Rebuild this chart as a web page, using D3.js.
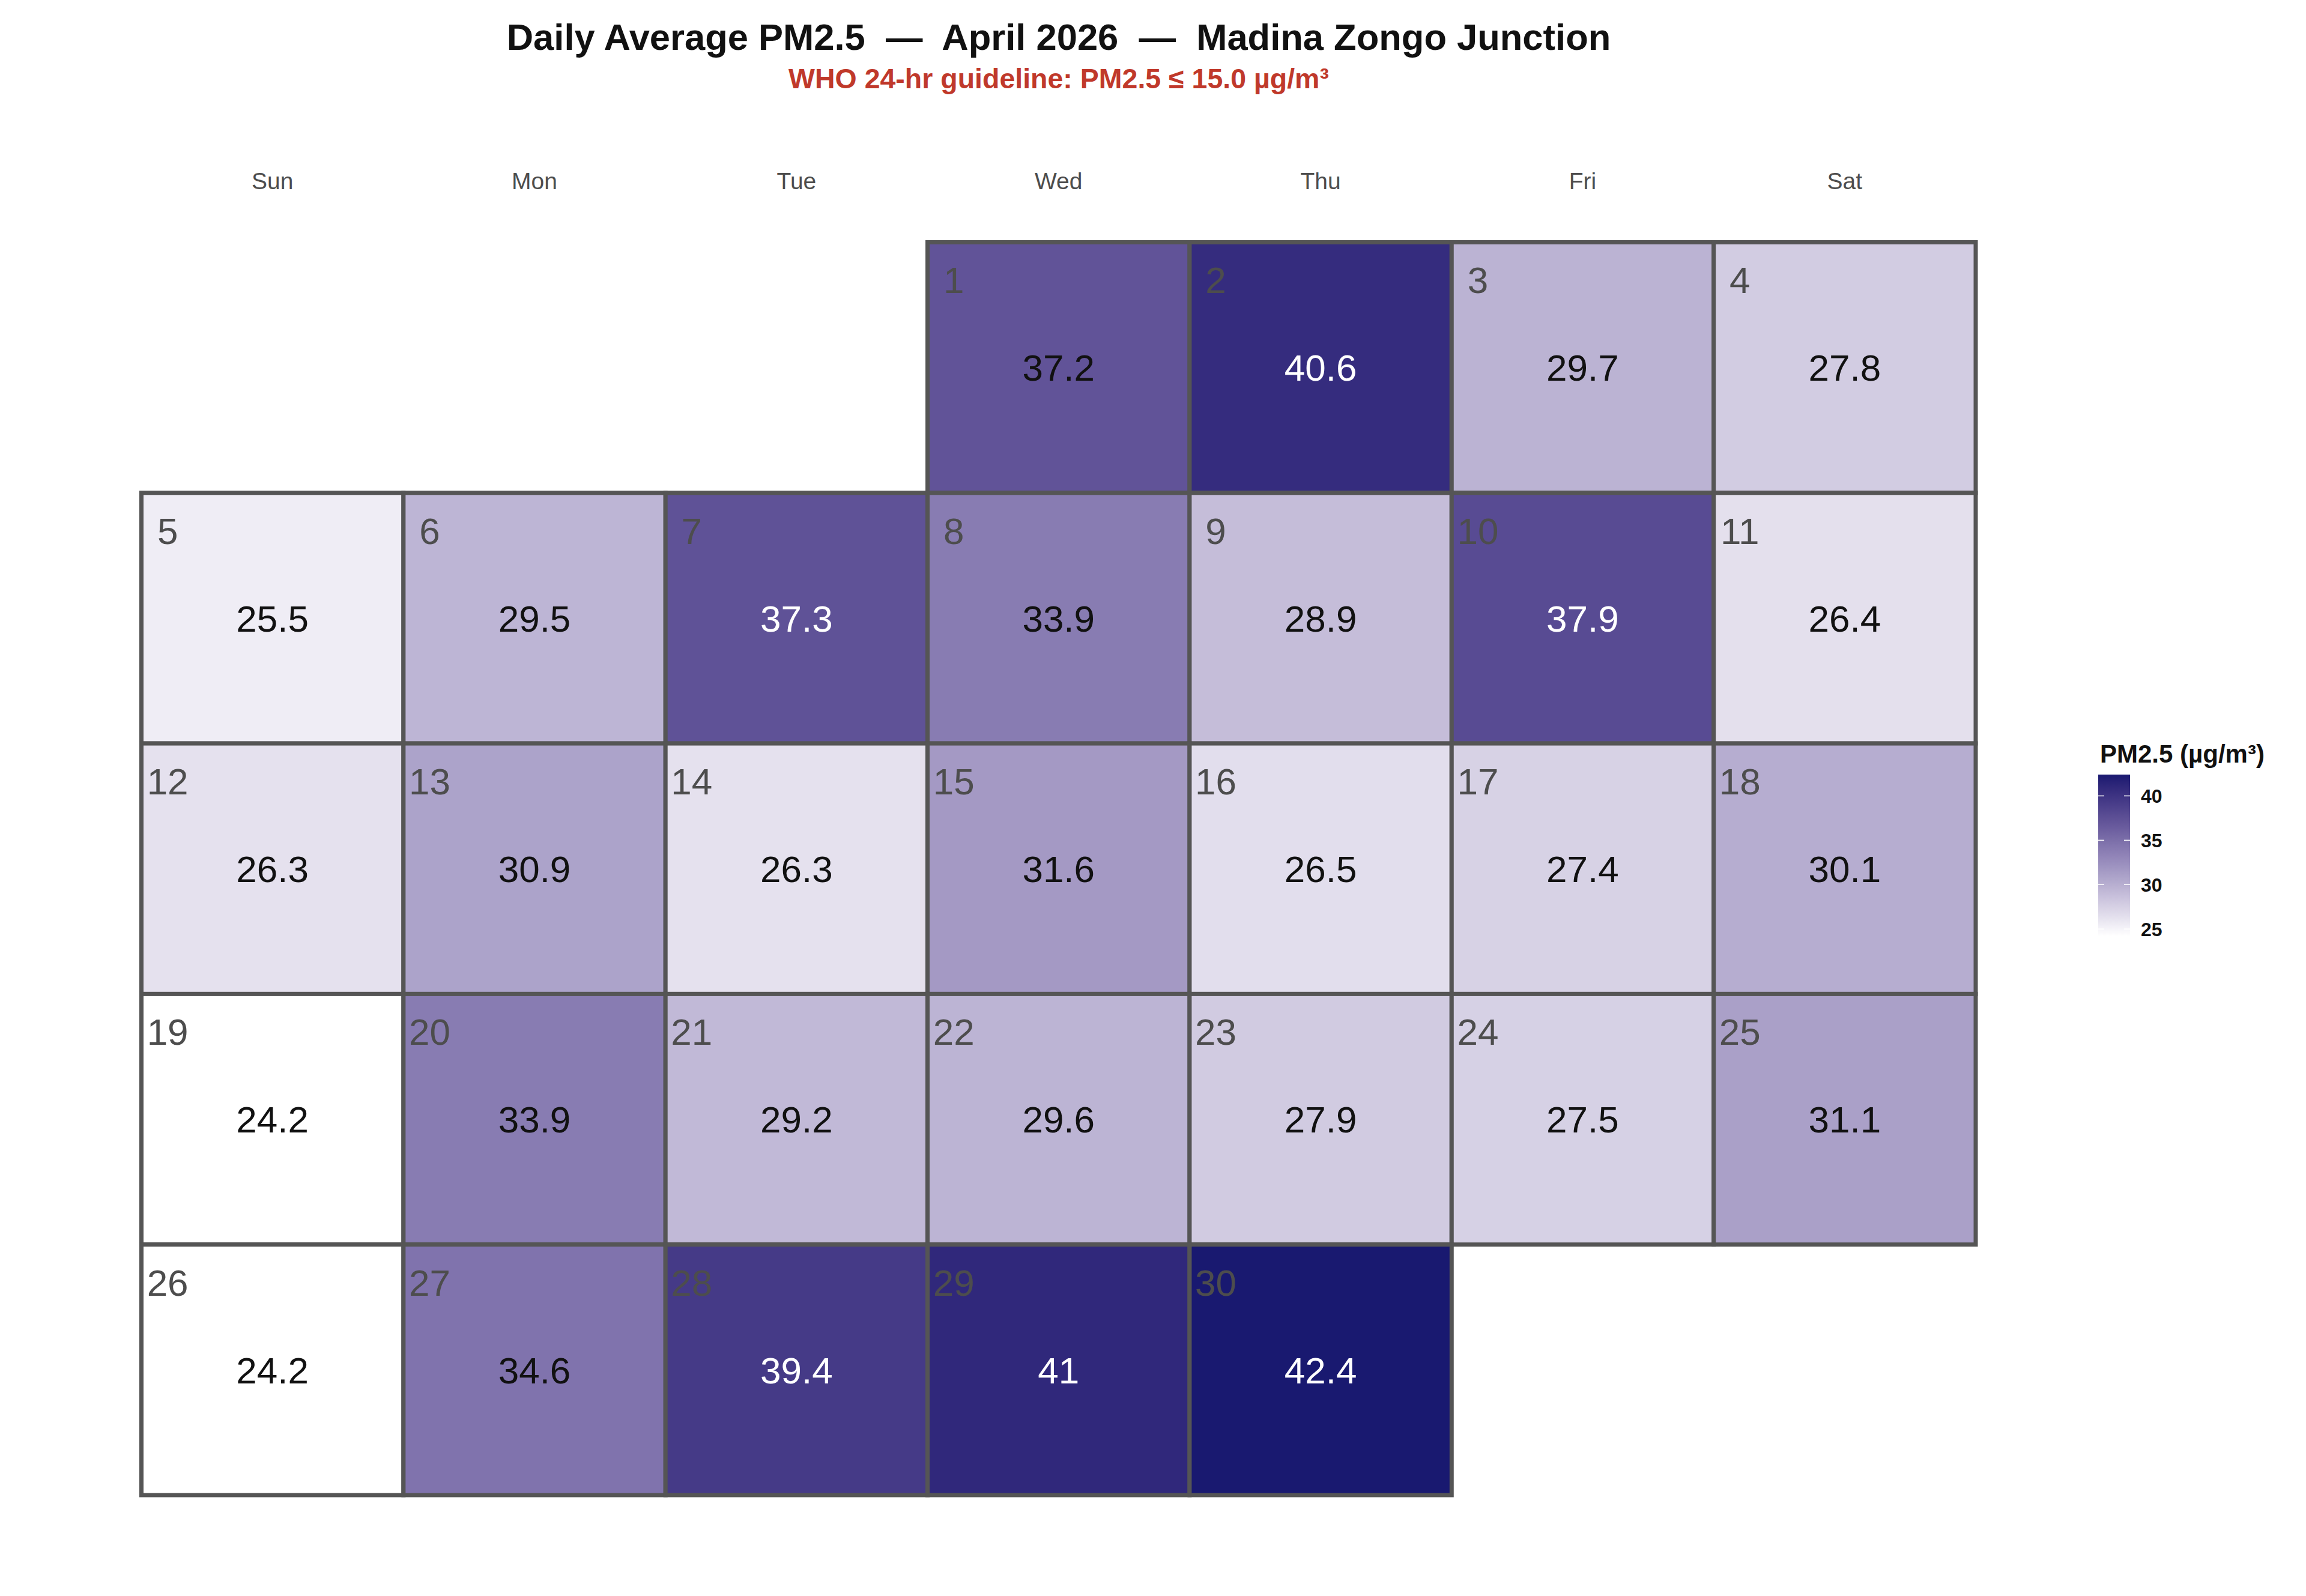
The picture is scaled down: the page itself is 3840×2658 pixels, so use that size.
<!DOCTYPE html>
<html>
<head>
<meta charset="utf-8">
<script src="https://cdn.jsdelivr.net/npm/d3@7"></script>
<style>
  body { margin: 0; background: #fff; }
  text { font-family: "Liberation Sans", Arial, sans-serif; }
</style>
</head>
<body>
<div id="chart"></div>
<script>
// daily average PM2.5, April 2026, one value per day (1..30)
var days = d3.range(1, 31);
var pm25 = [37.2, 40.6, 29.7, 27.8,
            25.5, 29.5, 37.3, 33.9, 28.9, 37.9, 26.4,
            26.3, 30.9, 26.3, 31.6, 26.5, 27.4, 30.1,
            24.2, 33.9, 29.2, 29.6, 27.9, 27.5, 31.1,
            24.2, 34.6, 39.4, 41.0, 42.4];
var weekdays = ["Sun", "Mon", "Tue", "Wed", "Thu", "Fri", "Sat"];
var legendTicks = [25, 30, 35, 40];

var titleText = "Daily Average PM2.5  \u2014  April 2026  \u2014  Madina Zongo Junction";
var subtitleText = "WHO 24-hr guideline: PM2.5 \u2264 15.0 \u00b5g/m\u00b3";
var legendTitle = "PM2.5 (\u00b5g/m\u00b3)";

var width = 3840,
    height = 2658;

var gridLeft = 235.5, gridRight = 3290,
    gridTop = 403.5, gridBottom = 2490;

var month = new Date(2026, 3, 1);
var data = days.map(function(d, i) {
  var date = new Date(2026, 3, d);
  return { day: d, date: date, value: pm25[i],
           wd: date.getDay(), wk: d3.timeWeek.count(month, date) };
});

var x = d3.scaleBand().domain(d3.range(7)).range([gridLeft, gridRight]).padding(0);
var y = d3.scaleBand().domain(d3.range(5)).range([gridTop, gridBottom]).padding(0);

var color = d3.scaleLinear()
    .domain(d3.extent(pm25))
    .range(["#ffffff", "#191970"])
    .interpolate(d3.interpolateLab);

var fmt = function(v) { return String(Math.round(v * 10) / 10); };
var whiteAbove = 37.25;

var svg = d3.select("#chart").append("svg")
    .attr("width", width)
    .attr("height", height)
    .style("background", "#fff");

svg.append("text")
    .attr("x", 1763).attr("y", 83)
    .attr("text-anchor", "middle")
    .attr("font-size", 61.5).attr("font-weight", "bold")
    .attr("fill", "#111")
    .attr("xml:space", "preserve")
    .style("white-space", "pre")
    .text(titleText);

svg.append("text")
    .attr("x", 1763).attr("y", 147)
    .attr("text-anchor", "middle")
    .attr("font-size", 46.5).attr("font-weight", "bold")
    .attr("fill", "#c0392b")
    .text(subtitleText);

svg.selectAll(".wday")
    .data(weekdays)
  .enter().append("text")
    .attr("class", "wday")
    .attr("x", function(d, i) { return x(i) + x.bandwidth() / 2; })
    .attr("y", 315)
    .attr("text-anchor", "middle")
    .attr("font-size", 39)
    .attr("fill", "#4d4d4d")
    .text(function(d) { return d; });

var cell = svg.selectAll(".cell")
    .data(data)
  .enter().append("g")
    .attr("class", "cell")
    .attr("transform", function(d) { return "translate(" + x(d.wd) + "," + y(d.wk) + ")"; });

cell.append("rect")
    .attr("width", x.bandwidth())
    .attr("height", y.bandwidth())
    .attr("fill", function(d) { return color(d.value); })
    .attr("stroke", "#555555")
    .attr("stroke-width", 7);

cell.append("text")
    .attr("x", x.bandwidth() * 0.1)
    .attr("y", y.bandwidth() * 0.15)
    .attr("dy", "0.36em")
    .attr("text-anchor", "middle")
    .attr("font-size", 62)
    .attr("fill", "#4d4d4d")
    .text(function(d) { return d.day; });

cell.append("text")
    .attr("x", x.bandwidth() / 2)
    .attr("y", y.bandwidth() / 2)
    .attr("dy", "0.36em")
    .attr("text-anchor", "middle")
    .attr("font-size", 62)
    .attr("fill", function(d) { return d.value > whiteAbove ? "#ffffff" : "#111111"; })
    .text(function(d) { return fmt(d.value); });

// colourbar legend
var barX = 3494, barW = 53;
var ly = d3.scaleLinear().domain(d3.extent(pm25)).range([1559, 1290]);

var grad = svg.append("defs").append("linearGradient")
    .attr("id", "pmgrad")
    .attr("x1", 0).attr("y1", 1).attr("x2", 0).attr("y2", 0);
grad.selectAll("stop")
    .data(d3.range(0, 1.0001, 0.05))
  .enter().append("stop")
    .attr("offset", function(t) { return t; })
    .attr("stop-color", function(t) { return color(ly.domain()[0] + t * (ly.domain()[1] - ly.domain()[0])); });

svg.append("text")
    .attr("x", 3497).attr("y", 1270)
    .attr("font-size", 42).attr("font-weight", "bold")
    .attr("fill", "#111")
    .text(legendTitle);

svg.append("rect")
    .attr("x", barX).attr("y", ly.range()[1])
    .attr("width", barW).attr("height", ly.range()[0] - ly.range()[1])
    .attr("fill", "url(#pmgrad)");

var lt = svg.selectAll(".ltick")
    .data(legendTicks)
  .enter().append("g")
    .attr("class", "ltick")
    .attr("transform", function(d) { return "translate(0," + ly(d) + ")"; });

lt.append("line")
    .attr("x1", barX).attr("x2", barX + 10)
    .attr("stroke", "#fff").attr("stroke-width", 1.5);
lt.append("line")
    .attr("x1", barX + barW - 10).attr("x2", barX + barW)
    .attr("stroke", "#fff").attr("stroke-width", 1.5);
lt.append("text")
    .attr("x", 3565)
    .attr("dy", "0.36em")
    .attr("font-size", 32).attr("font-weight", "bold")
    .attr("fill", "#111")
    .text(function(d) { return d; });
</script>
</body>
</html>
